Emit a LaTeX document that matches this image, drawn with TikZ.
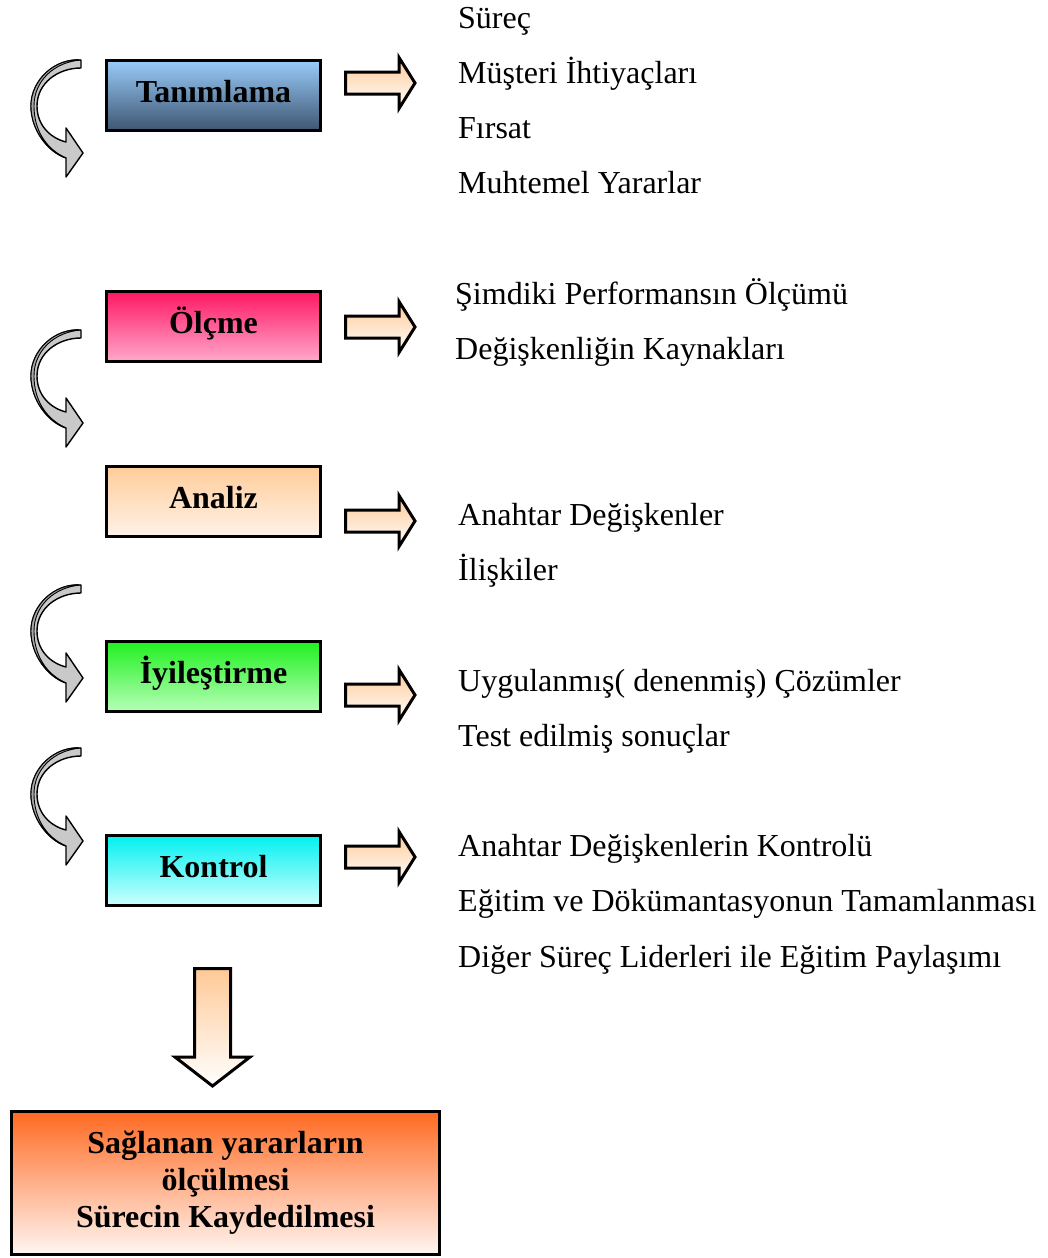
\documentclass[tikz,border=0pt]{standalone}
\usepackage{fontspec}
\setmainfont{Liberation Serif}
\begin{document}
\definecolor{tanTop}{HTML}{9ACCFA}
\definecolor{tanBot}{HTML}{3F5773}
\definecolor{olcTop}{HTML}{FF1663}
\definecolor{olcBot}{HTML}{FFA8CA}
\definecolor{anaTop}{HTML}{FFCC99}
\definecolor{anaBot}{HTML}{FFF2E8}
\definecolor{iyiTop}{HTML}{1FF01F}
\definecolor{iyiBot}{HTML}{B6FFB6}
\definecolor{konTop}{HTML}{00F0F0}
\definecolor{konBot}{HTML}{CDFFFF}
\definecolor{resTop}{HTML}{FF6A22}
\definecolor{resBot}{HTML}{FFF6F2}
\definecolor{peach}{HTML}{FFC996}
\begin{tikzpicture}[x=1pt,y=-1pt,
  every node/.style={font=\fontsize{32}{37}\selectfont},
  procbox/.style={draw=black, line width=3pt, minimum width=214pt, minimum height=70pt,
    inner sep=0pt, outer sep=0pt, font=\fontsize{32}{37}\selectfont\bfseries,
    text height=20pt, text depth=6pt},
  item/.style={anchor=base west, inner sep=0pt},
  blockfill/.style={draw=black, line width=3pt, line join=miter, top color=peach, bottom color=white},
  turnfill/.style={draw=black, line width=1.4pt, line join=round, fill=gray!42},
  rightarrow/.pic={
    \path[blockfill] (-35.5,-11) -- (18,-11) -- (18,-25.5) -- (34,0) -- (18,25.5)
      -- (18,11) -- (-35.5,11) -- cycle;},
  turnarrow/.pic={
    \path[turnfill] (15,-95) .. controls (-11,-97) and (-35,-75) .. (-35,-49)
      .. controls (-35,-25) and (-18,-3) .. (0,3)
      -- (0,22) -- (17,-2) -- (0,-27) -- (0,-13)
      .. controls (-16,-17) and (-29,-30) .. (-29,-49)
      .. controls (-29,-72) and (-8,-87) .. (15,-87) -- cycle;
    % darker back face along the outer rim
    \path[draw=black, line width=0.9pt, fill=gray!68] (15,-95) .. controls (-11,-97) and (-35,-75) .. (-35,-49)
      .. controls (-35,-25) and (-18,-3) .. (0,3)
      .. controls (-20,-6) and (-32,-25) .. (-32,-49)
      .. controls (-32,-74) and (-12,-93) .. (15,-95) -- cycle;}
]
\useasboundingbox (0,0) rectangle (1048,1258);

% process steps
\node[procbox, top color=tanTop, bottom color=tanBot] (tan) at (213.5,95) {Tanımlama};
\node[procbox, top color=olcTop, bottom color=olcBot] (olc) at (213.5,326) {Ölçme};
\node[procbox, top color=anaTop, bottom color=anaBot] (ana) at (213.5,501) {Analiz};
\node[procbox, top color=iyiTop, bottom color=iyiBot] (iyi) at (213.5,676) {İyileştirme};
\node[procbox, top color=konTop, bottom color=konBot] (kon) at (213.5,870) {Kontrol};

% result box
\node[draw=black, line width=3pt, minimum width=428pt, minimum height=143pt,
      inner sep=0pt, align=center, font=\fontsize{32}{37}\selectfont\bfseries,
      top color=resTop, bottom color=resBot] (res) at (225.5,1183)
  {Sağlanan yararların\\ölçülmesi\\Sürecin Kaydedilmesi};

% curved step arrows
\pic at (66,155) {turnarrow};
\pic at (66,425) {turnarrow};
\pic at (66,680) {turnarrow};
\pic at (66,843) {turnarrow};

% block arrows to the outputs
\pic at (381,83) {rightarrow};
\pic at (381,327) {rightarrow};
\pic at (381,521) {rightarrow};
\pic at (381,695) {rightarrow};
\pic at (381,857) {rightarrow};

% arrow down to the result
\path[blockfill] (194.5,968.5) -- (230.5,968.5) -- (230.5,1057) -- (250,1057)
  -- (212.5,1086) -- (175,1057) -- (194.5,1057) -- cycle;

% outputs of each step
\node[item] (o1) at (458,28) {Süreç};
\node[item] (o2) at (458,83) {Müşteri İhtiyaçları};
\node[item] (o3) at (458,138) {Fırsat};
\node[item] (o4) at (458,193) {Muhtemel Yararlar};
\node[item] (o5) at (455,304) {Şimdiki Performansın Ölçümü};
\node[item] (o6) at (455,359) {Değişkenliğin Kaynakları};
\node[item] (o7) at (458,525) {Anahtar Değişkenler};
\node[item] (o8) at (458,580) {İlişkiler};
\node[item] (o9) at (458,691) {Uygulanmış( denenmiş) Çözümler};
\node[item] (o10) at (458,746) {Test edilmiş sonuçlar};
\node[item] (o11) at (458,856) {Anahtar Değişkenlerin Kontrolü};
\node[item] (o12) at (458,911) {Eğitim ve Dökümantasyonun Tamamlanması};
\node[item] (o13) at (458,967) {Diğer Süreç Liderleri ile Eğitim Paylaşımı};
\end{tikzpicture}
\end{document}
